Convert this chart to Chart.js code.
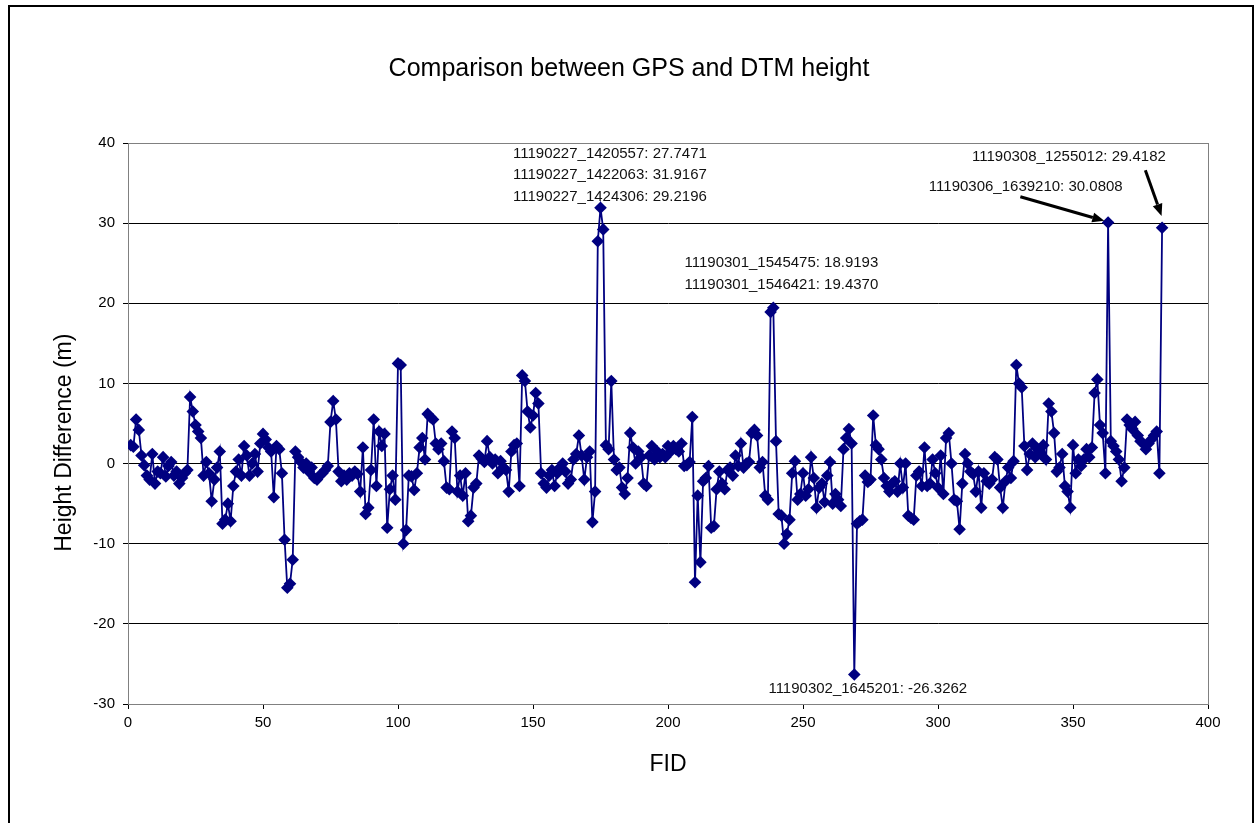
<!DOCTYPE html>
<html>
<head>
<meta charset="utf-8">
<script src="https://cdn.jsdelivr.net/npm/chart.js@4.4.0/dist/chart.umd.min.js"></script>
<style>
  body { margin: 0; background: #fff; }
  canvas { display: block; }
</style>
</head>
<body>
<canvas id="myChart" width="1258" height="823"></canvas>
<script>
// height difference GPS - DTM (m), one value per FID starting at 1
const heightDiff = [
  2.3, 2.1, 5.5, 4.2, 1.0, -0.2, -1.5, -2.0, 1.2, -2.5,
  -1.0, -1.2, 0.8, -1.6, -0.3, 0.2, -1.5, -1.0, -2.5, -1.8,
  -1.2, -0.8, 8.3, 6.5, 4.8, 4.0, 3.2, -1.5, 0.2, -1.2,
  -4.7, -2.0, -0.5, 1.5, -7.5, -7.0, -5.0, -7.2, -2.8, -1.0,
  0.5, -1.5, 2.2, 1.0, -1.5, 0.0, 1.2, -1.0, 2.5, 3.7,
  3.0, 2.0, 1.5, -4.2, 2.2, 1.8, -1.2, -9.5, -15.5, -15.0,
  -12.0, 1.5, 0.8, 0.2, -0.5, 0.0, -1.0, -0.5, -1.8, -2.0,
  -1.5, -1.2, -0.8, -0.3, 5.2, 7.8, 5.5, -1.0, -2.2, -1.5,
  -2.0, -1.2, -1.5, -1.0, -1.3, -3.5, 2.0, -6.3, -5.5, -0.8,
  5.5, -2.8, 4.0, 2.2, 3.7, -8.0, -3.2, -1.5, -4.5, 12.5,
  12.3, -10.0, -8.3, -1.5, -1.6, -3.3, -1.2, 2.0, 3.2, 0.5,
  6.2, 5.8, 5.5, 2.5, 1.8, 2.5, 0.3, -3.0, -3.2, 4.0,
  3.2, -3.5, -1.5, -4.0, -1.2, -7.2, -6.5, -3.0, -2.5, 1.0,
  0.6, 0.2, 2.8, 0.8, 0.0, 0.5, -1.2, 0.3, -0.5, -0.8,
  -3.5, 1.5, 2.3, 2.5, -2.8, 11.0, 10.3, 6.5, 4.5, 6.0,
  8.8, 7.5, -1.2, -2.5, -3.0, -1.5, -0.8, -2.8, -1.2, -0.5,
  0.0, -1.0, -2.5, -2.0, 0.5, 1.2, 3.5, 1.0, -2.0, 0.8,
  1.5, -7.3, -3.5, 27.7471, 31.9167, 29.2196, 2.3, 1.8, 10.3, 0.5,
  -0.8, -0.5, -3.0, -3.8, -1.8, 3.8, 2.0, 0.0, 1.5, 0.8,
  -2.5, -2.8, 1.0, 2.2, 0.5, 1.5, 0.8, 1.2, 0.8, 2.2,
  1.5, 2.2, 1.8, 1.5, 2.5, -0.3, -0.2, 0.2, 5.8, -14.8,
  -4.0, -12.3, -2.2, -1.8, -0.3, -8.0, -7.8, -3.2, -1.0, -2.5,
  -3.2, -0.8, -0.5, -1.5, 1.0, -0.3, 2.5, -0.5, 0.0, 0.2,
  3.8, 4.2, 3.5, -0.5, 0.2, -4.0, -4.5, 18.9193, 19.4370, 2.8,
  -6.3, -6.5, -10.0, -8.8, -7.0, -1.2, 0.3, -4.5, -3.8, -1.2,
  -4.0, -3.2, 0.8, -1.8, -5.5, -3.0, -2.5, -4.8, -1.5, 0.2,
  -5.0, -3.8, -4.5, -5.3, 1.8, 3.2, 4.3, 2.5, -26.3262, -7.5,
  -7.2, -7.0, -1.5, -2.3, -2.0, 6.0, 2.3, 1.8, 0.5, -1.8,
  -2.8, -3.5, -2.5, -2.2, -3.5, 0.0, -3.0, 0.0, -6.5, -6.8,
  -7.0, -1.5, -1.0, -2.8, 2.0, -2.8, -2.5, 0.5, -1.2, -3.0,
  1.0, -3.8, 3.2, 3.8, 0.0, -4.5, -4.7, -8.2, -2.5, 1.2,
  0.0, -1.0, -1.3, -3.5, -1.0, -5.5, -1.2, -2.2, -2.5, -2.0,
  0.8, 0.5, -3.0, -5.5, -2.2, -0.5, -1.8, 0.3, 12.3, 10.0,
  9.5, 2.2, -0.8, 1.2, 2.5, 0.8, 1.8, 1.2, 2.3, 0.5,
  7.5, 6.5, 3.8, -1.0, -0.5, 1.2, -2.8, -3.5, -5.5, 2.3,
  -1.2, 0.5, -0.3, 0.5, 1.8, 0.8, 2.0, 8.8, 10.5, 4.8,
  3.8, -1.2, 30.0808, 2.8, 2.2, 1.5, 0.5, -2.2, -0.5, 5.5,
  4.8, 4.3, 5.2, 3.5, 2.8, 2.5, 1.8, 2.5, 3.0, 3.5,
  4.0, -1.2, 29.4182
];

const firstFid = 1;
const xTicks = [0, 50, 100, 150, 200, 250, 300, 350, 400];
const yTicks = [-30, -20, -10, 0, 10, 20, 30, 40];

// outlier labels: text, centre FID, baseline value
const labelTexts = [
  '11190227_1420557: 27.7471',
  '11190227_1422063: 31.9167',
  '11190227_1424306: 29.2196',
  '11190301_1545475: 18.9193',
  '11190301_1546421: 19.4370',
  '11190302_1645201: -26.3262',
  '11190308_1255012: 29.4182',
  '11190306_1639210: 30.0808'
];
const labelFid = [178.5, 178.5, 178.5, 242, 242, 274, 348.5, 332.5];
const labelVal = [38.7, 36.0, 33.3, 25.0, 22.3, -28.1, 38.3, 34.5];

// arrows from text to point: [fromFid, fromVal, toFid, toVal]
const arrows = [
  [330.5, 33.3, 361.6, 30.3],
  [376.8, 36.6, 382.8, 30.9]
];

const FONT = "'Liberation Sans', Arial, sans-serif";

const points = heightDiff.map((v, i) => ({ x: firstFid + i, y: v }));

const extras = {
  id: 'extras',
  beforeDraw(chart) {
    const ctx = chart.ctx;
    ctx.save();
    ctx.fillStyle = '#fff';
    ctx.fillRect(0, 0, chart.width, chart.height);
    ctx.strokeStyle = '#000';
    ctx.lineWidth = 2;
    ctx.strokeRect(9, 6, chart.width - 14, chart.height + 10);
    ctx.restore();
  },
  beforeDatasetsDraw(chart) {
    const a = chart.chartArea;
    const ctx = chart.ctx;
    ctx.save();
    ctx.strokeStyle = '#808080';
    ctx.lineWidth = 1;
    ctx.strokeRect(a.left + 0.5, a.top + 0.5, a.right - a.left, a.bottom - a.top);
    ctx.restore();
  },
  afterDatasetsDraw(chart) {
    const ctx = chart.ctx;
    const xs = chart.scales.x, ys = chart.scales.y;
    ctx.save();
    ctx.font = '15px ' + FONT;
    ctx.fillStyle = '#111';
    ctx.textAlign = 'center';
    ctx.textBaseline = 'middle';
    labelTexts.forEach((t, i) => {
      ctx.fillText(t, xs.getPixelForValue(labelFid[i]), ys.getPixelForValue(labelVal[i]));
    });
    ctx.strokeStyle = '#000';
    ctx.fillStyle = '#000';
    ctx.lineWidth = 3;
    arrows.forEach(([fx, fy, tx, ty]) => {
      const x1 = xs.getPixelForValue(fx), y1 = ys.getPixelForValue(fy);
      const x2 = xs.getPixelForValue(tx), y2 = ys.getPixelForValue(ty);
      const ang = Math.atan2(y2 - y1, x2 - x1);
      const hl = 12, hw = 5;
      const bx = x2 - hl * Math.cos(ang), by = y2 - hl * Math.sin(ang);
      ctx.beginPath();
      ctx.moveTo(x1, y1);
      ctx.lineTo(bx, by);
      ctx.stroke();
      ctx.beginPath();
      ctx.moveTo(x2, y2);
      ctx.lineTo(bx + hw * Math.sin(ang), by - hw * Math.cos(ang));
      ctx.lineTo(bx - hw * Math.sin(ang), by + hw * Math.cos(ang));
      ctx.closePath();
      ctx.fill();
    });
    ctx.restore();
  }
};

new Chart(document.getElementById('myChart'), {
  type: 'line',
  data: {
    datasets: [{
      data: points,
      borderColor: '#000080',
      backgroundColor: '#000080',
      borderWidth: 1.8,
      pointStyle: 'rectRot',
      pointRadius: 6.3,
      pointBorderWidth: 0,
      pointBackgroundColor: '#000080',
      tension: 0
    }]
  },
  options: {
    responsive: false,
    animation: false,
    events: [],
    layout: { padding: 0 },
    plugins: {
      legend: { display: false },
      tooltip: { enabled: false },
      title: {
        display: true,
        text: 'Comparison between GPS and DTM height',
        color: '#000',
        font: { family: FONT, size: 25, weight: 'normal' },
        padding: { top: 54, bottom: 59 }
      }
    },
    scales: {
      x: {
        type: 'linear',
        min: 0, max: 400,
        afterBuildTicks(s) { s.ticks = xTicks.map(v => ({ value: v })); },
        afterFit(s) { s.height = 119; },
        ticks: { color: '#000', font: { family: FONT, size: 15 }, padding: 5, maxRotation: 0 },
        grid: { drawOnChartArea: false, color: '#000', tickLength: 5 },
        border: { color: '#000' },
        title: {
          display: true, text: 'FID', color: '#000',
          font: { family: FONT, size: 23 }, padding: { top: 0, bottom: 45 }
        }
      },
      y: {
        min: -30, max: 40,
        afterBuildTicks(s) { s.ticks = yTicks.map(v => ({ value: v })); },
        afterFit(s) { s.width = 128; },
        ticks: { color: '#000', font: { family: FONT, size: 15 }, padding: 8 },
        grid: { color: '#000', tickLength: 5 },
        border: { color: '#000' },
        title: {
          display: true, text: 'Height Difference (m)      ', color: '#000',
          font: { family: FONT, size: 23 }, padding: { top: 51, bottom: 0 }
        }
      },
      // empty right-hand margin so the title centres on the whole frame
      yRight: {
        position: 'right',
        min: -30, max: 40,
        afterFit(s) { s.width = 50; },
        ticks: { display: false },
        grid: { display: false },
        border: { display: false }
      }
    }
  },
  plugins: [extras]
});
</script>
</body>
</html>
